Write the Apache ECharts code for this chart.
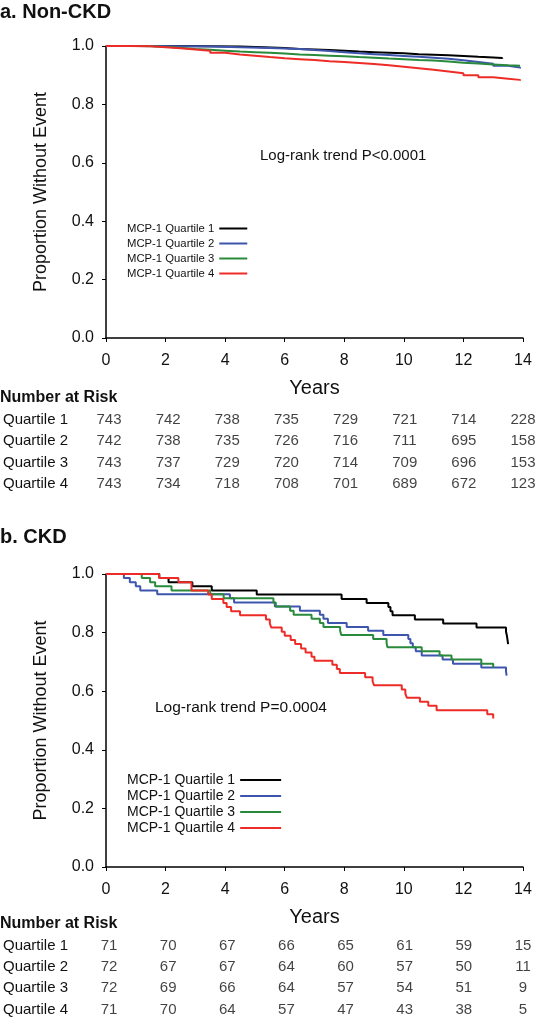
<!DOCTYPE html>
<html><head><meta charset="utf-8">
<script src="https://cdn.jsdelivr.net/npm/echarts@6/dist/echarts.min.js"></script>
<style>html,body{margin:0;padding:0;background:#fff}#c{width:538px;height:1020px}</style>
</head><body><div id="c"></div>
<script>
const seriesNames = ['MCP-1 Quartile 1','MCP-1 Quartile 2','MCP-1 Quartile 3','MCP-1 Quartile 4'];
const colors = ['#000000','#3d55ad','#2a8a3c','#ee2c27'];
const xTicks = [0,2,4,6,8,10,12,14];
const rowLabels = ['Quartile 1','Quartile 2','Quartile 3','Quartile 4'];

// a. Non-CKD survival curves [years, proportion]
const nonCkdQ1 = [[0,1],[1.5,1],[2.5,0.999],[3.5,0.998],[4.5,0.996],[5.3,0.993],[6,0.99],[6.5,0.988],[7,0.986],[7.5,0.984],[8,0.981],[8.5,0.979],[9,0.977],[9.5,0.975],[10,0.972],[10.5,0.97],[11,0.968],[11.5,0.966],[12,0.963],[12.5,0.961],[13,0.959],[13.3,0.956]];
const nonCkdQ2 = [[0,1],[1.5,0.999],[2.5,0.998],[3.5,0.996],[4.5,0.993],[5.5,0.99],[6.5,0.986],[7,0.983],[7.5,0.979],[8,0.975],[8.5,0.972],[9,0.969],[9.5,0.966],[10,0.963],[10.5,0.96],[11,0.956],[11.5,0.951],[12,0.945],[12.5,0.939],[13,0.932],[13.5,0.926],[13.9,0.923]];
const nonCkdQ3 = [[0,1],[1,0.999],[1.5,0.997],[2,0.994],[2.5,0.99],[3,0.987],[3.5,0.984],[4,0.981],[4.5,0.979],[5,0.977],[5.5,0.974],[6,0.971],[6.5,0.969],[7,0.967],[7.5,0.965],[8,0.962],[8.5,0.96],[9,0.957],[9.5,0.955],[10,0.952],[10.5,0.95],[11,0.947],[11.5,0.943],[12,0.94],[12.5,0.937],[13,0.934],[13.5,0.932],[13.9,0.931]];
const nonCkdQ4 = [[0,1],[0.8,0.999],[1.5,0.996],[2,0.992],[2.5,0.988],[3,0.984],[3.5,0.977],[4,0.971],[4.5,0.967],[5,0.962],[5.5,0.958],[6,0.955],[6.5,0.952],[7,0.948],[7.5,0.945],[8,0.942],[8.5,0.938],[9,0.934],[9.5,0.929],[10,0.924],[10.5,0.919],[11,0.913],[11.5,0.907],[12,0.9],[12.5,0.893],[13,0.888],[13.5,0.884],[13.9,0.881]];

// b. CKD survival curves [years, proportion]
const ckdQ1 = [[0,1],[1.79,0.986],[2.1,0.972],[2.9,0.958],[3.55,0.944],[5.06,0.930],[7.91,0.915],[8.75,0.901],[9.48,0.887],[9.55,0.873],[9.62,0.859],[10.37,0.845],[11.32,0.831],[12.44,0.817],[13.43,0.803],[13.46,0.789],[13.48,0.775],[13.5,0.761]];
const ckdQ2 = [[0,1],[0.6,0.986],[0.8,0.972],[1.0,0.958],[1.15,0.944],[1.72,0.931],[4.16,0.917],[4.3,0.903],[5.67,0.889],[6.51,0.875],[7.18,0.861],[7.3,0.847],[7.45,0.833],[8.08,0.819],[8.8,0.806],[9.31,0.792],[10.15,0.778],[10.22,0.764],[10.3,0.75],[10.4,0.736],[10.6,0.722],[11.3,0.708],[11.65,0.694],[12.6,0.681],[13.43,0.667],[13.45,0.653]];
const ckdQ3 = [[0,1],[1.2,0.986],[1.48,0.972],[1.65,0.958],[2.2,0.944],[3.5,0.931],[3.95,0.917],[5.62,0.903],[5.7,0.889],[6.18,0.875],[6.3,0.861],[6.9,0.847],[7.18,0.833],[7.3,0.819],[7.86,0.806],[7.9,0.792],[8.97,0.778],[9.42,0.764],[9.45,0.75],[10.6,0.736],[11.2,0.722],[11.6,0.708],[12.6,0.694],[13.0,0.681]];
const ckdQ4 = [[0,1],[1.78,0.986],[2.43,0.972],[2.87,0.944],[3.43,0.930],[3.55,0.915],[3.94,0.901],[4.05,0.887],[4.2,0.873],[4.5,0.859],[5.37,0.845],[5.5,0.831],[5.55,0.817],[5.9,0.803],[6.0,0.789],[6.2,0.775],[6.35,0.761],[6.55,0.746],[6.7,0.732],[6.9,0.718],[7.0,0.704],[7.6,0.690],[7.75,0.676],[7.85,0.662],[8.7,0.648],[8.95,0.634],[9.0,0.620],[9.93,0.606],[10.05,0.592],[10.1,0.578],[10.54,0.564],[10.82,0.550],[11.1,0.535],[12.8,0.521],[13.0,0.507]];

// Number at risk (rows: quartile 1..4, columns: years 0..14 step 2)
const nonCkdRisk = [[743,742,738,735,729,721,714,228],[742,738,735,726,716,711,695,158],[743,737,729,720,714,709,696,153],[743,734,718,708,701,689,672,123]];
const ckdRisk = [[71,70,67,66,65,61,59,15],[72,67,67,64,60,57,50,11],[72,69,66,64,57,54,51,9],[71,70,64,57,47,43,38,5]];

const FONT = '"Liberation Sans", Arial, sans-serif';
const TXT = '#111';

function km(name, data, color, idx) {
  return {type:'line', name, data, step:'end', xAxisIndex:idx, yAxisIndex:idx, symbol:'none', showSymbol:false,
    lineStyle:{color, width:2}, itemStyle:{color}, emphasis:{disabled:true}, silent:true};
}
function riskSeries(table, idx) {
  const d = [];
  table.forEach((row, r) => row.forEach((n, c) => d.push({value:[xTicks[c], rowLabels[r], n]})));
  return {type:'scatter', data:d, xAxisIndex:idx, yAxisIndex:idx, symbolSize:1, itemStyle:{color:'rgba(0,0,0,0)'}, silent:true,
    label:{show:true, position:'inside', formatter:p => p.value[2], fontFamily:FONT, fontSize:15, color:TXT}};
}
function valX(idx, show) {
  return {type:'value', gridIndex:idx, min:0, max:14, interval:2, show,
    name: show ? 'Years' : '', nameLocation:'middle', nameGap:40, nameTextStyle:{fontFamily:FONT, fontSize:20, color:TXT},
    axisLine:{show:true, onZero:false, lineStyle:{color:'#000', width:1.5}},
    axisTick:{show:true, length:4, lineStyle:{color:'#000', width:1}},
    axisLabel:{fontFamily:FONT, fontSize:16, color:TXT, margin:15},
    splitLine:{show:false}};
}
function valY(idx) {
  return {type:'value', gridIndex:idx, min:0, max:1, interval:0.2,
    name:'Proportion Without Event', nameLocation:'middle', nameGap:56, nameTextStyle:{fontFamily:FONT, fontSize:18, color:TXT},
    axisLine:{show:true, lineStyle:{color:'#000', width:1.5}},
    axisTick:{show:true, length:4, lineStyle:{color:'#000', width:1}},
    axisLabel:{fontFamily:FONT, fontSize:16, color:TXT, margin:12, formatter:v => v.toFixed(1)},
    splitLine:{show:false}};
}
function catY(idx) {
  return {type:'category', gridIndex:idx, data:rowLabels, inverse:true,
    axisLine:{show:false}, axisTick:{show:false}, splitLine:{show:false},
    axisLabel:{align:'left', margin:106, fontFamily:FONT, fontSize:15, color:TXT}};
}
function legendAt(top, fontSize, lineH, iconW) {
  return {data:seriesNames, orient:'vertical', left:127, top, padding:0, align:'right', icon:'rect', itemWidth:iconW, itemHeight:2,
    itemGap:0, selectedMode:false, textStyle:{fontFamily:FONT, fontSize, lineHeight:lineH, color:TXT}};
}

const option = {
  animation:false,
  backgroundColor:'#fff',
  grid:[
    {left:106, top:46, width:417, height:292},
    {left:106, top:574, width:417, height:293},
    {left:106, top:409, width:417, height:86},
    {left:106, top:935, width:417, height:86}
  ],
  xAxis:[valX(0,true), valX(1,true), valX(2,false), valX(3,false)],
  yAxis:[valY(0), valY(1), catY(2), catY(3)],
  legend:[legendAt(221, 11.3, 15, 28), legendAt(772, 14, 16, 41)],
  series:[
    km(seriesNames[0], nonCkdQ1, colors[0], 0),
    km(seriesNames[1], nonCkdQ2, colors[1], 0),
    km(seriesNames[2], nonCkdQ3, colors[2], 0),
    km(seriesNames[3], nonCkdQ4, colors[3], 0),
    km(seriesNames[0], ckdQ1, colors[0], 1),
    km(seriesNames[1], ckdQ2, colors[1], 1),
    km(seriesNames[2], ckdQ3, colors[2], 1),
    km(seriesNames[3], ckdQ4, colors[3], 1),
    riskSeries(nonCkdRisk, 2),
    riskSeries(ckdRisk, 3)
  ],
  graphic:[
    {type:'text', left:0, top:2, style:{text:'a. Non-CKD', font:'bold 20px '+FONT, fill:TXT}},
    {type:'text', left:0, top:527, style:{text:'b. CKD', font:'bold 20px '+FONT, fill:TXT}},
    {type:'text', left:0, top:390, style:{text:'Number at Risk', font:'bold 16px '+FONT, fill:TXT}},
    {type:'text', left:0, top:916, style:{text:'Number at Risk', font:'bold 16px '+FONT, fill:TXT}},
    {type:'text', left:260, top:148, style:{text:'Log-rank trend P<0.0001', font:'15px '+FONT, fill:TXT}},
    {type:'text', left:155, top:700, style:{text:'Log-rank trend P=0.0004', font:'15.5px '+FONT, fill:TXT}}
  ]
};
const chart = echarts.init(document.getElementById('c'), null, {renderer:'canvas'});
chart.setOption(option);
</script>
</body></html>
